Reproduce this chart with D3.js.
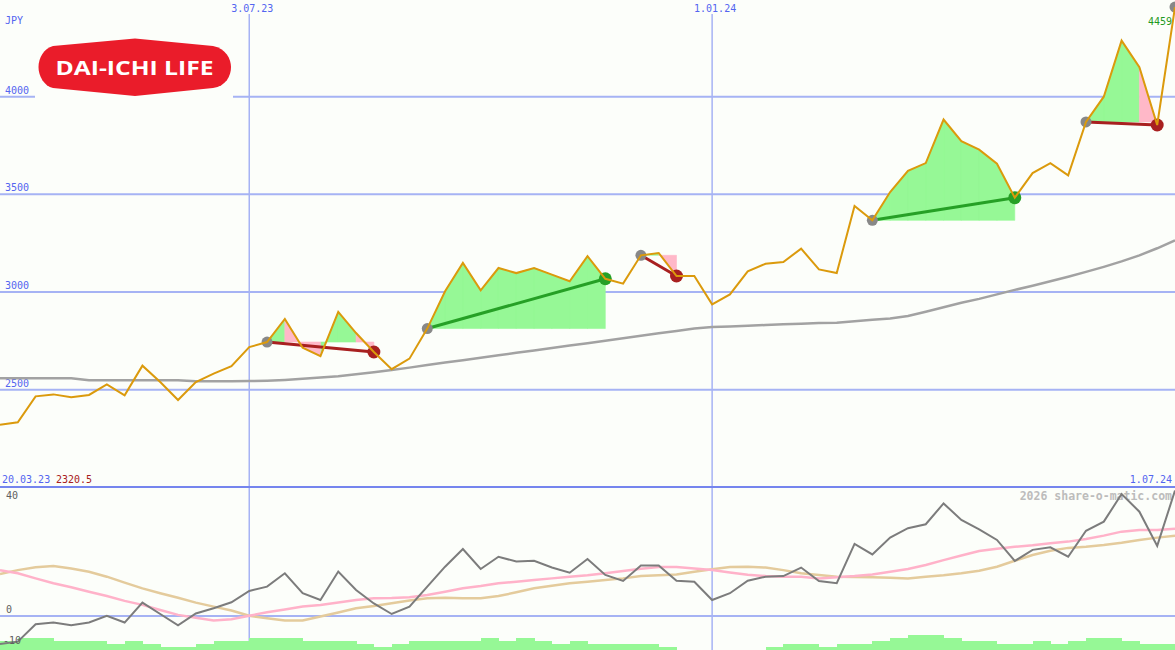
<!DOCTYPE html>
<html><head><meta charset="utf-8">
<script src="https://cdn.jsdelivr.net/npm/d3@7"></script>
<style>html,body{margin:0;padding:0;background:#fcfefa;} svg{display:block;}</style>
</head><body>
<svg id="c" width="1175" height="650"></svg>
<script>
// ---------- data (weekly, Mondays 27.03.23 .. 1.07.24) ----------
const priceData = [
  2320.5, 2333, 2466, 2476, 2461, 2473, 2527, 2471, 2623, 2539,
  2447, 2539, 2582, 2621, 2718, 2744, 2862, 2715, 2672, 2898,
  2790, 2693, 2605, 2659, 2813, 3004, 3149, 3009, 3123, 3097,
  3123, 3089, 3055, 3184, 3068, 3043, 3188, 3200, 3082, 3082,
  2937, 2988, 3106, 3145, 3154, 3222, 3116, 3097, 3440, 3367,
  3512, 3620, 3660, 3883, 3772, 3729, 3657, 3483, 3609, 3660,
  3597, 3871, 4000, 4287, 4151, 3855, 4459];
const maData = [
  2558, 2558, 2558, 2558, 2558, 2548, 2548, 2548, 2548, 2548,
  2548, 2543, 2543, 2543, 2544, 2546, 2550, 2556, 2562, 2569,
  2579, 2589, 2601, 2613, 2626, 2639, 2651, 2664, 2676, 2689,
  2701, 2714, 2726, 2738, 2751, 2763, 2776, 2789, 2801, 2813,
  2821, 2824, 2828, 2831, 2835, 2838, 2841, 2843, 2850, 2858,
  2865, 2877, 2899, 2922, 2945, 2965, 2988, 3011, 3032, 3055,
  3078, 3103, 3129, 3157, 3188, 3224, 3265];
const oscData = [
  -9.8, -9.0, -2.9, -2.3, -3.2, -2.3, 0.1, -2.3, 4.7, 0.7,
  -3.3, 0.9, 2.7, 4.8, 8.8, 10.3, 15.0, 8.0, 5.6, 15.6,
  9.1, 4.4, 0.7, 3.3, 10.3, 17.3, 23.5, 16.5, 20.8, 19.1,
  19.4, 17.0, 15.2, 20.0, 14.4, 12.3, 17.7, 17.7, 12.4, 12.0,
  5.6, 8.0, 12.4, 13.8, 14.0, 17.0, 12.3, 11.5, 25.3, 21.6,
  27.5, 30.8, 32.2, 39.5, 33.7, 30.4, 26.7, 19.3, 23.2, 24.1,
  20.8, 29.9, 33.1, 42.8, 36.6, 24.6, 44.0];
const pinkData = [
  16.1, 15.0, 13.2, 11.5, 10.1, 8.5, 7.0, 5.3, 3.9, 2.1,
  0.4, -0.6, -1.6, -1.1, 0.1, 1.3, 2.3, 3.3, 3.9, 4.7,
  5.6, 6.2, 6.3, 6.6, 7.4, 8.5, 9.7, 10.5, 11.5, 12.0,
  12.6, 13.2, 13.8, 14.3, 15.0, 15.8, 16.6, 17.2, 17.2, 16.7,
  16.1, 15.3, 14.5, 14.0, 13.8, 13.8, 13.2, 13.6, 14.0, 14.6,
  15.5, 16.5, 17.9, 19.6, 21.2, 22.8, 23.6, 24.3, 24.8, 25.5,
  26.1, 27.0, 28.2, 29.6, 30.2, 30.2, 30.6];
const tanData = [
  14.7, 16.1, 17.1, 17.5, 16.7, 15.5, 13.8, 11.7, 9.7, 8.0,
  6.4, 4.7, 3.3, 1.9, 0.1, -0.8, -1.6, -1.6, -0.2, 1.2,
  2.7, 3.5, 4.5, 5.4, 6.2, 6.4, 6.2, 6.2, 7.0, 8.3,
  9.7, 10.6, 11.5, 12.0, 12.6, 13.2, 14.0, 14.3, 14.6, 15.5,
  16.4, 17.2, 17.3, 17.0, 16.1, 15.0, 14.4, 13.8, 13.7, 13.6,
  13.4, 13.2, 13.8, 14.3, 15.0, 15.9, 17.3, 19.4, 21.4, 22.9,
  23.9, 24.3, 24.9, 25.7, 26.7, 27.5, 28.2];
const volLevels = [
  3, 4, 4, 3, 3, 3, 2, 3, 2, 1,
  1, 2, 3, 3, 4, 4, 4, 3, 3, 3,
  2, 1, 2, 3, 3, 3, 3, 4, 3, 4,
  3, 2, 3, 2, 2, 2, 2, 1, 0, 0,
  0, 0, 0, 1, 2, 2, 1, 2, 2, 3,
  4, 5, 5, 4, 3, 3, 2, 2, 3, 2,
  3, 4, 4, 3, 2, 2, 2];
const tradeEntries = [15, 24, 36, 49, 61];
const tradeExits   = [21, 34, 38, 57, 65];
const openEntries  = [66];
const priceTicks = [2500, 3000, 3500, 4000];
const lowerTicks = [-10, 0, 40];
const dateTicks = [new Date(2023, 6, 3), new Date(2024, 0, 1)];
const rangeLabels = ["20.03.23", "1.07.24"];
const currency = "JPY";
const logoText = "DAI-ICHI LIFE";
const copyright = "2026 share-o-matic.com";

const dates = d3.timeMonday.range(new Date(2023, 2, 27), new Date(2024, 6, 2));

// ---------- scales ----------
const W = 1175, H = 650;
const x = d3.scaleTime().domain([new Date(2023, 2, 27), new Date(2024, 6, 1)]).range([0, W]);
const y = d3.scaleLinear().domain([2500, 4000]).range([389.7, 96.7]);
const yl = d3.scaleLinear().domain([0, 40]).range([616, 502]);
const yv = d3.scaleLinear().domain([0, 5]).range([650, 635]);

const C = {
  bg: "#fcfefa", grid: "#a6b3f4", divider: "#7585ee", blue: "#5365f0",
  price: "#db9a0c", ma: "#a2a2a2", osc: "#7c7c7c", pink: "#ffb2c9", tan: "#e4cb9c",
  gFill: "#96f896", pFill: "#ffb8c8", win: "#26a026", loss: "#a82020", entry: "#888888",
  vol: "#96f896"
};
const mono = "'DejaVu Sans Mono', monospace";

const svg = d3.select("#c");
svg.append("rect").attr("width", W).attr("height", H).attr("fill", C.bg);

const xi = i => x(dates[i]);

// ---------- grid ----------
const grid = svg.append("g");
grid.selectAll("line.h").data(priceTicks).join("line")
  .attr("x1", 0).attr("x2", W).attr("y1", d => y(d)).attr("y2", d => y(d))
  .attr("stroke", C.grid).attr("stroke-width", 2);
grid.selectAll("line.v").data(dateTicks).join("line")
  .attr("x1", d => x(d)).attr("x2", d => x(d)).attr("y1", 14).attr("y2", H)
  .attr("stroke", C.grid).attr("stroke-width", 1.5);
grid.append("line").attr("x1", 0).attr("x2", W).attr("y1", yl(0)).attr("y2", yl(0))
  .attr("stroke", C.grid).attr("stroke-width", 2);

// ---------- logo ----------
const logo = svg.append("g");
logo.append("rect").attr("x", 35).attr("y", 30).attr("width", 198).attr("height", 72).attr("fill", C.bg);
logo.append("path")
  .attr("d", "M53,46 L135,38.5 L213,46 C226,48.5 231,59 231,67 C231,76 226,86 213,88 L135,96 L53,88 C44,86 38.5,76 38.5,67 C38.5,58 44,48.5 53,46 Z")
  .attr("fill", "#ea1c2a");
logo.append("text").attr("x", 134.5).attr("y", 74.5).attr("text-anchor", "middle")
  .attr("font-family", "'Open Sans', Lato, sans-serif").attr("font-weight", 700)
  .attr("font-size", 20).attr("fill", "#fff")
  .attr("textLength", 158).attr("lengthAdjust", "spacingAndGlyphs").text(logoText);

// ---------- price axis labels ----------
svg.append("text").attr("x", 5).attr("y", 24).attr("font-family", mono).attr("font-size", 10)
  .attr("fill", C.blue).text(currency);
svg.selectAll("text.pt").data(priceTicks).join("text")
  .attr("x", 5).attr("y", d => y(d) - 3).attr("font-family", mono).attr("font-size", 10)
  .attr("fill", C.blue).text(d => d);
const fmtDate = d3.timeFormat("%-d.%m.%y");
svg.selectAll("text.dt").data(dateTicks).join("text")
  .attr("x", d => x(d) + 3).attr("y", 12).attr("text-anchor", "middle")
  .attr("font-family", mono).attr("font-size", 10).attr("fill", C.blue).text(d => fmtDate(d));

// ---------- trade fills (one path per colour, so no seams) ----------
tradeEntries.forEach((e, t) => {
  const ex = tradeExits[t];
  const base = y(priceData[e]);
  let gD = "", pD = "";
  for (let k = e; k < ex; k++) {
    const pts = [[xi(k), base], [xi(k), y(priceData[k])], [xi(k + 1), y(priceData[k + 1])], [xi(k + 1), base]];
    const seg = "M" + pts.join("L") + "Z";
    if (priceData[k + 1] >= priceData[e]) gD += seg; else pD += seg;
  }
  if (gD) svg.append("path").attr("d", gD).attr("fill", C.gFill).attr("stroke", C.gFill).attr("stroke-width", 0.6);
  if (pD) svg.append("path").attr("d", pD).attr("fill", C.pFill).attr("stroke", C.pFill).attr("stroke-width", 0.6);
});

// ---------- moving average ----------
svg.append("path").datum(maData)
  .attr("d", d3.line().x((d, i) => xi(i)).y(d => y(d)))
  .attr("fill", "none").attr("stroke", C.ma).attr("stroke-width", 2.5);

// ---------- trade lines ----------
tradeEntries.forEach((e, t) => {
  const ex = tradeExits[t];
  const col = priceData[ex] >= priceData[e] ? C.win : C.loss;
  svg.append("line").attr("x1", xi(e)).attr("y1", y(priceData[e]))
    .attr("x2", xi(ex)).attr("y2", y(priceData[ex]))
    .attr("stroke", col).attr("stroke-width", 3);
});
// markers
tradeEntries.concat(openEntries).forEach(e => {
  svg.append("circle").attr("cx", xi(e)).attr("cy", y(priceData[e])).attr("r", 5.5).attr("fill", C.entry);
});
tradeEntries.forEach((e, t) => {
  const ex = tradeExits[t];
  svg.append("circle").attr("cx", xi(ex)).attr("cy", y(priceData[ex])).attr("r", 6.5)
    .attr("fill", priceData[ex] >= priceData[e] ? C.win : C.loss);
});

// ---------- price line ----------
svg.append("path").datum(priceData)
  .attr("d", d3.line().x((d, i) => xi(i)).y(d => y(d)))
  .attr("fill", "none").attr("stroke", C.price).attr("stroke-width", 2).attr("stroke-linejoin", "miter");

// last price label
const n = priceData.length;
svg.append("text").attr("x", 1172).attr("y", 25).attr("text-anchor", "end")
  .attr("font-family", mono).attr("font-size", 10)
  .attr("fill", priceData[n - 1] >= priceData[n - 2] ? "#1f9a1f" : C.loss)
  .text(d3.format("d")(priceData[n - 1]));

// range labels
svg.append("text").attr("x", 2).attr("y", 483).attr("font-family", mono).attr("font-size", 10)
  .attr("fill", C.blue).text(rangeLabels[0]);
svg.append("text").attr("x", 56).attr("y", 483).attr("font-family", mono).attr("font-size", 10)
  .attr("fill", C.loss).text(d3.format(".1f")(priceData[0]));
svg.append("text").attr("x", 1172).attr("y", 483).attr("text-anchor", "end").attr("font-family", mono)
  .attr("font-size", 10).attr("fill", C.blue).text(rangeLabels[1]);

// ---------- divider ----------
svg.append("line").attr("x1", 0).attr("x2", W).attr("y1", 487).attr("y2", 487)
  .attr("stroke", C.divider).attr("stroke-width", 2);

// ---------- lower panel ----------
svg.append("g").attr("shape-rendering", "crispEdges").selectAll("rect").data(volLevels).join("rect")
  .attr("x", (d, i) => xi(i)).attr("width", (d, i) => (i < n - 1 ? xi(i + 1) - xi(i) : 18) + 0.5)
  .attr("y", d => yv(d)).attr("height", d => yv(0) - yv(d)).attr("fill", C.vol);

svg.append("text").attr("x", 1172).attr("y", 500).attr("text-anchor", "end")
  .attr("font-family", mono).attr("font-size", 11.5).attr("font-weight", 700)
  .attr("fill", "#bcbcbc").text(copyright);

const lowLine = d3.line().x((d, i) => xi(i)).y(d => yl(d));
svg.append("path").datum(tanData).attr("d", lowLine).attr("fill", "none")
  .attr("stroke", C.tan).attr("stroke-width", 2.5);
svg.append("path").datum(pinkData).attr("d", lowLine).attr("fill", "none")
  .attr("stroke", C.pink).attr("stroke-width", 2.5);
svg.append("path").datum(oscData).attr("d", lowLine).attr("fill", "none")
  .attr("stroke", C.osc).attr("stroke-width", 2);

svg.selectAll("text.lt").data(lowerTicks).join("text")
  .attr("x", d => d < 0 ? 3 : 6).attr("y", d => d < 0 ? yl(d) - 0.5 : yl(d) - 3)
  .attr("font-family", mono).attr("font-size", 10)
  .attr("fill", "#606060").text(d => d);
</script>
</body></html>
